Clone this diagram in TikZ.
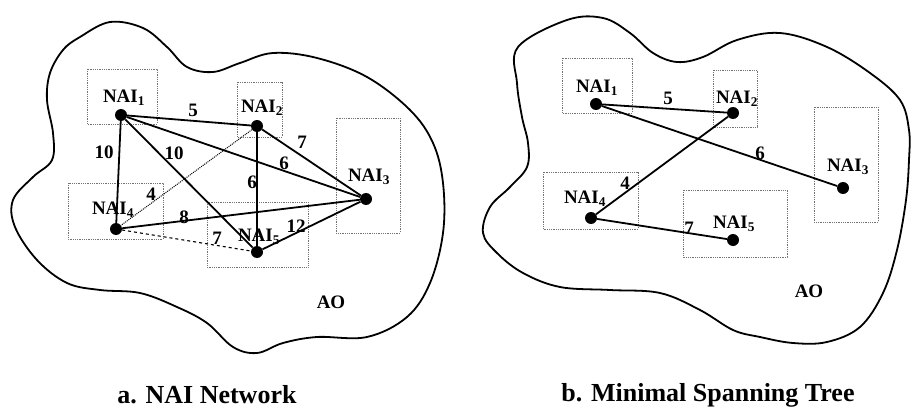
\documentclass[tikz,border=0pt]{standalone}
\usepackage{fontspec}
\setmainfont{Liberation Serif}
\begin{document}
\begin{tikzpicture}[x=1pt,y=-1pt,
  box/.style={draw=black!55, densely dotted, line width=0.8pt},
  dot/.style={circle, fill=black, inner sep=0pt, minimum size=12pt},
  edge/.style={line width=1.8pt},
  blob/.style={line width=1.8pt},
  nai/.style={font=\fontsize{19}{19}\selectfont\bfseries, inner sep=0pt},
  wt/.style={font=\fontsize{19}{19}\selectfont\bfseries, inner sep=0pt},
  captxt/.style={font=\fontsize{26}{26}\selectfont\bfseries, inner sep=0pt}]
\useasboundingbox (0,0) rectangle (911,412);
% ---------------- panel a ----------------
\draw[blob] plot[smooth cycle, tension=0.6] coordinates {
 (80,37) (110,22) (143,28) (167,47) (187,67) (213,72) (240,63) (273,53) (317,58)
 (367,77) (410,110) (433,143) (443,183) (443,233) (430,283) (407,317) (367,337)
 (317,337) (283,343) (257,353) (233,347) (207,323) (177,307) (140,293) (100,290)
 (67,283) (37,260) (15,227) (13,200) (33,177) (52,160) (53,133) (47,100) (50,73) (63,50)};
\draw[box] (87,69) rectangle (157,124);
\draw[box] (237,82) rectangle (282,137);
\draw[box] (336,118) rectangle (400,233);
\draw[box] (68,183) rectangle (163,239);
\draw[box] (207,202) rectangle (308,267);
\node[nai] (la1) at (124,98) {NAI\textsubscript{1}};
\node[nai] (la2) at (262,108) {NAI\textsubscript{2}};
\node[nai] (la3) at (369,177) {NAI\textsubscript{3}};
\node[nai] (la4) at (113,210) {NAI\textsubscript{4}};
\node[nai] (la5) at (259,237) {NAI\textsubscript{5}};
\node[dot] (a1) at (121,115) {};
\node[dot] (a2) at (257,126) {};
\node[dot] (a3) at (366,199) {};
\node[dot] (a4) at (116,229) {};
\node[dot] (a5) at (257,252) {};
\draw[edge] (a1) -- (a2);
\draw[edge] (a1) -- (a4);
\draw[edge] (a1) -- (a5);
\draw[edge] (a1) -- (a3);
\draw[edge] (a2) -- (a3);
\draw[edge] (a2) -- (a5);
\draw[edge] (a4) -- (a3);
\draw[edge] (a5) -- (a3);
\draw[line width=1pt, densely dotted] (a2) -- (a4);
\draw[line width=1.1pt, dashed] (a4) -- (a5);
\node[wt] (wa12) at (193,110) {5};
\node[wt] (wa14) at (104,152) {10};
\node[wt] (wa15) at (174,153) {10};
\node[wt] (wa23) at (302,142) {7};
\node[wt] (wa13) at (284,163) {6};
\node[wt] (wa25) at (252,182) {6};
\node[wt] (wa24) at (151,194) {4};
\node[wt] (wa43) at (184,217) {8};
\node[wt] (wa53) at (296,226) {12};
\node[wt] (wa45) at (217,238) {7};
\node[wt] (aoa) at (331,302) {AO};
\node[captxt] (capa) at (207,395) {a. NAI Network};
% ---------------- panel b ----------------
\draw[blob] plot[smooth cycle, tension=0.6] coordinates {
 (518,47) (567,20) (603,18) (630,33) (653,53) (677,62) (703,57) (737,40) (780,33)
 (827,47) (870,73) (900,100) (909,130) (909,160) (906,200) (897,250) (883,293)
 (860,327) (827,342) (793,343) (760,337) (733,330) (700,310) (660,293) (610,290)
 (560,287) (523,273) (497,253) (483,233) (490,207) (510,187) (527,167) (528,143)
 (522,117) (517,83)};
\draw[box] (562,58) rectangle (632,113);
\draw[box] (713,70) rectangle (757,127);
\draw[box] (814,107) rectangle (878,222);
\draw[box] (543,172) rectangle (638,229);
\draw[box] (683,190) rectangle (787,257);
\node[nai] (lb1) at (597,88) {NAI\textsubscript{1}};
\node[nai] (lb2) at (737,99) {NAI\textsubscript{2}};
\node[nai] (lb3) at (848,167) {NAI\textsubscript{3}};
\node[nai] (lb4) at (585,199) {NAI\textsubscript{4}};
\node[nai] (lb5) at (734,224) {NAI\textsubscript{5}};
\node[dot] (b1) at (596,104) {};
\node[dot] (b2) at (733,113) {};
\node[dot] (b3) at (843,188) {};
\node[dot] (b4) at (591,218) {};
\node[dot] (b5) at (733,240) {};
\draw[edge] (b1) -- (b2);
\draw[edge] (b1) -- (b3);
\draw[edge] (b2) -- (b4);
\draw[edge] (b4) -- (b5);
\node[wt] (wb12) at (668,98) {5};
\node[wt] (wb13) at (760,153) {6};
\node[wt] (wb24) at (625,183) {4};
\node[wt] (wb45) at (689,228) {7};
\node[wt] (aob) at (809,291) {AO};
\node[captxt] (capb) at (708,395) {b. Minimal Spanning Tree};
\end{tikzpicture}
\end{document}
